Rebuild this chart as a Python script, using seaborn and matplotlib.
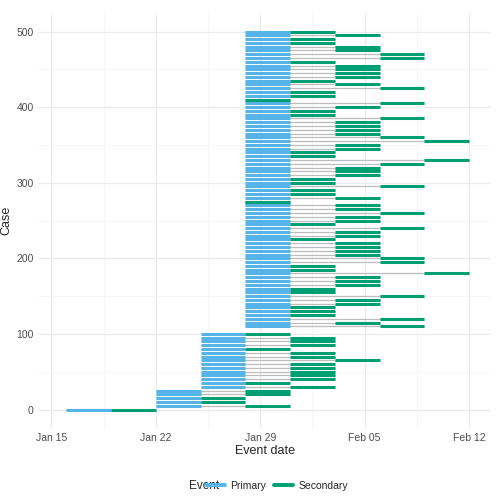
import numpy as np
import pandas as pd
import matplotlib
matplotlib.use("Agg")
import matplotlib.pyplot as plt
import matplotlib.dates as mdates
from matplotlib.lines import Line2D
from matplotlib.ticker import MultipleLocator
import seaborn as sns

# 3-day bins starting 2020-01-16; bin index of primary event per generation
start_date = pd.Timestamp("2020-01-16")
bin_days = 3
gen_primary_bin = [0, 2, 3, 4]

# secondary-event bin per plotted row, listed top (high case no.) to bottom
gen0_secondary = [1]
gen1_secondary = [4, 4, 3, 3, 4]
gen2_secondary = [4, 5, 5, 5, 4, 5, 5, 6, 5, 5, 5, 5, 5, 4, 5]
gen3_secondary = [
    5, 6, 5, 5, 6, 6, 7, 7, 5, 6, 6, 6, 6, 5, 6, 7, 5, 5, 4, 7, 6, 5, 5, 7, 6, 6, 6,
    6, 7, 8, 6, 6, 5, 5, 8, 7, 6, 6, 6, 5, 5, 7, 5, 5, 6, 4, 6, 6, 7, 6, 6, 5, 7, 6,
    6, 5, 6, 6, 6, 6, 7, 7, 5, 5, 8, 6, 6, 6, 5, 5, 7, 6, 6, 5, 5, 5, 7, 6, 7,
]
gen_top_case = [0, 25, 100, 500]
case_step = 5

rows = []
for g, sec in enumerate([gen0_secondary, gen1_secondary, gen2_secondary, gen3_secondary]):
    for i, b in enumerate(sec):
        rows.append(dict(case=gen_top_case[g] - case_step * i,
                         p_bin=gen_primary_bin[g], s_bin=b))
df = pd.DataFrame(rows)
to_date = lambda b: start_date + pd.to_timedelta(b * bin_days, unit="D")
df["p0"] = df.p_bin.map(to_date)
df["p1"] = (df.p_bin + 1).map(to_date)
df["s0"] = df.s_bin.map(to_date)
df["s1"] = (df.s_bin + 1).map(to_date)

blue, green = "#56B4E9", "#009E73"

sns.set_theme(style="whitegrid")
plt.rcParams["font.family"] = ["Liberation Sans", "DejaVu Sans"]
fig, ax = plt.subplots(figsize=(5.04, 5.04), dpi=100)
fig.subplots_adjust(left=0.075, right=0.975, top=0.975, bottom=0.15)

ax.hlines(df.case, df.p0, df.s1, color="#bdbdbd", lw=0.9, zorder=2)
ax.hlines(df.case, df.p0, df.p1, color=blue, lw=2.2, zorder=3)
ax.hlines(df.case, df.s0, df.s1, color=green, lw=2.2, zorder=4)

ax.set_xlim(pd.Timestamp("2020-01-14 02:00"), pd.Timestamp("2020-02-13 12:00"))
ax.set_ylim(-25, 525)
ticks = pd.to_datetime(["2020-01-15", "2020-01-22", "2020-01-29", "2020-02-05", "2020-02-12"])
ax.set_xticks(ticks)
ax.set_xticklabels(["Jan 15", "Jan 22", "Jan 29", "Feb 05", "Feb 12"])
ax.set_xticks(ticks[:-1] + pd.Timedelta(days=3.5), minor=True)
ax.yaxis.set_major_locator(MultipleLocator(100))
ax.yaxis.set_minor_locator(MultipleLocator(50))
ax.grid(which="major", color="#ebebeb", lw=0.9)
ax.grid(which="minor", color="#f3f3f3", lw=0.5)
for s in ax.spines.values():
    s.set_visible(False)
ax.tick_params(which="both", length=0, labelsize=7.5, labelcolor="#4d4d4d", pad=3)
ax.set_xlabel("Event date", fontsize=9, labelpad=2)
ax.set_ylabel("Case", fontsize=9, labelpad=3)

handles = [Line2D([], [], color=blue, lw=2.8), Line2D([], [], color=green, lw=2.8)]
fig.legend(handles, ["Primary", "Secondary"], loc="center", bbox_to_anchor=(0.55, 0.036),
           ncol=2, frameon=False, fontsize=7.5, handlelength=1.8, columnspacing=0.8,
           handletextpad=0.5)
fig.text(0.405, 0.036, "Event", fontsize=8.5, ha="center", va="center")

fig.savefig("out.png", dpi=100)
